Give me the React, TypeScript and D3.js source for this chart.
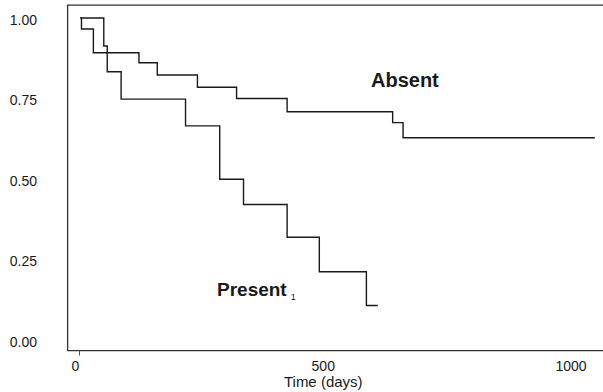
import React, { useEffect, useRef } from 'react';
import * as d3 from 'd3';

// Kaplan-Meier style steps
const presentTimes = [4, 49, 56, 84, 214, 283, 331, 419, 484, 579, 602];
const presentSurv = [1.0, 0.913, 0.833, 0.748, 0.665, 0.499, 0.421, 0.319, 0.212, 0.107, 0.107];

const absentTimes = [1, 4, 28, 120, 157, 238, 317, 419, 632, 653, 1040];
const absentSurv = [1.0, 0.966, 0.892, 0.861, 0.823, 0.785, 0.75, 0.709, 0.675, 0.628, 0.628];

const yTicks = [0, 0.25, 0.5, 0.75, 1.0];
const xTicks = [0, 500, 1000];

const App = () => {
  const chartRef = useRef<SVGSVGElement | null>(null);

  useEffect(() => {
    if (!chartRef.current) return;
    const svg = d3.select(chartRef.current);
    svg.selectAll('*').remove();

    const xScale = d3.scaleLinear().domain([0, 1000]).range([79.5, 575]);
    const yScale = d3.scaleLinear().domain([0, 1]).range([340, 18]);

    const ink = '#1a1a1a';
    const font = '"Liberation Sans", Arial, sans-serif';

    // frame: top, left and bottom sides (right side runs off the picture)
    const left = xScale(-24);
    const right = xScale(1065);
    const top = yScale(1.04);
    const bottom = yScale(-0.033);
    svg.append('path')
      .attr('d', `M${right},${top} H${left} V${bottom} H${right}`)
      .attr('fill', 'none')
      .attr('stroke', '#333')
      .attr('stroke-width', 1.3);

    // only the tick at zero shows on the scan
    svg.append('line')
      .attr('x1', xScale(0)).attr('x2', xScale(0))
      .attr('y1', bottom).attr('y2', bottom + 5)
      .attr('stroke', '#555')
      .attr('stroke-width', 1);

    svg.selectAll('.ylab')
      .data(yTicks)
      .enter()
      .append('text')
      .attr('class', 'ylab')
      .attr('x', 37)
      .attr('y', d => yScale(d) + 2)
      .attr('dy', '0.35em')
      .attr('text-anchor', 'end')
      .attr('font-family', font)
      .attr('font-size', 14)
      .attr('fill', ink)
      .text(d => d.toFixed(2));

    svg.selectAll('.xlab')
      .data(xTicks)
      .enter()
      .append('text')
      .attr('class', 'xlab')
      .attr('x', d => xScale(d) - 4)
      .attr('y', 371)
      .attr('text-anchor', 'middle')
      .attr('font-family', font)
      .attr('font-size', 14)
      .attr('fill', ink)
      .text(d => String(d));

    svg.append('text')
      .attr('x', xScale(500) - 4)
      .attr('y', 386.5)
      .attr('text-anchor', 'middle')
      .attr('font-family', font)
      .attr('font-size', 15)
      .attr('fill', ink)
      .text('Time (days)');

    const line = d3.line<[number, number]>()
      .x(d => xScale(d[0]))
      .y(d => yScale(d[1]))
      .curve(d3.curveStepAfter);

    const series = [
      presentTimes.map((t, i) => [t, presentSurv[i]] as [number, number]),
      absentTimes.map((t, i) => [t, absentSurv[i]] as [number, number]),
    ];

    svg.selectAll('.km')
      .data(series)
      .enter()
      .append('path')
      .attr('class', 'km')
      .attr('d', d => line(d))
      .attr('fill', 'none')
      .attr('stroke', ink)
      .attr('stroke-width', 1.4);

    svg.append('text')
      .attr('x', 371)
      .attr('y', 86.5)
      .attr('font-family', font)
      .attr('font-weight', 'bold')
      .attr('font-size', 20)
      .attr('fill', ink)
      .text('Absent');

    const pres = svg.append('text')
      .attr('x', 217)
      .attr('y', 295.5)
      .attr('font-family', font)
      .attr('fill', ink);
    pres.append('tspan')
      .attr('font-weight', 'bold')
      .attr('font-size', 19)
      .text('Present');
    pres.append('tspan')
      .attr('dx', 4)
      .attr('dy', 4)
      .attr('font-size', 9)
      .text('1');
  }, []);

  return (
    <svg
      ref={chartRef}
      width={603}
      height={392}
      style={{ position: 'absolute', left: 0, top: 0, background: '#fff' }}
    />
  );
};

export default App;
